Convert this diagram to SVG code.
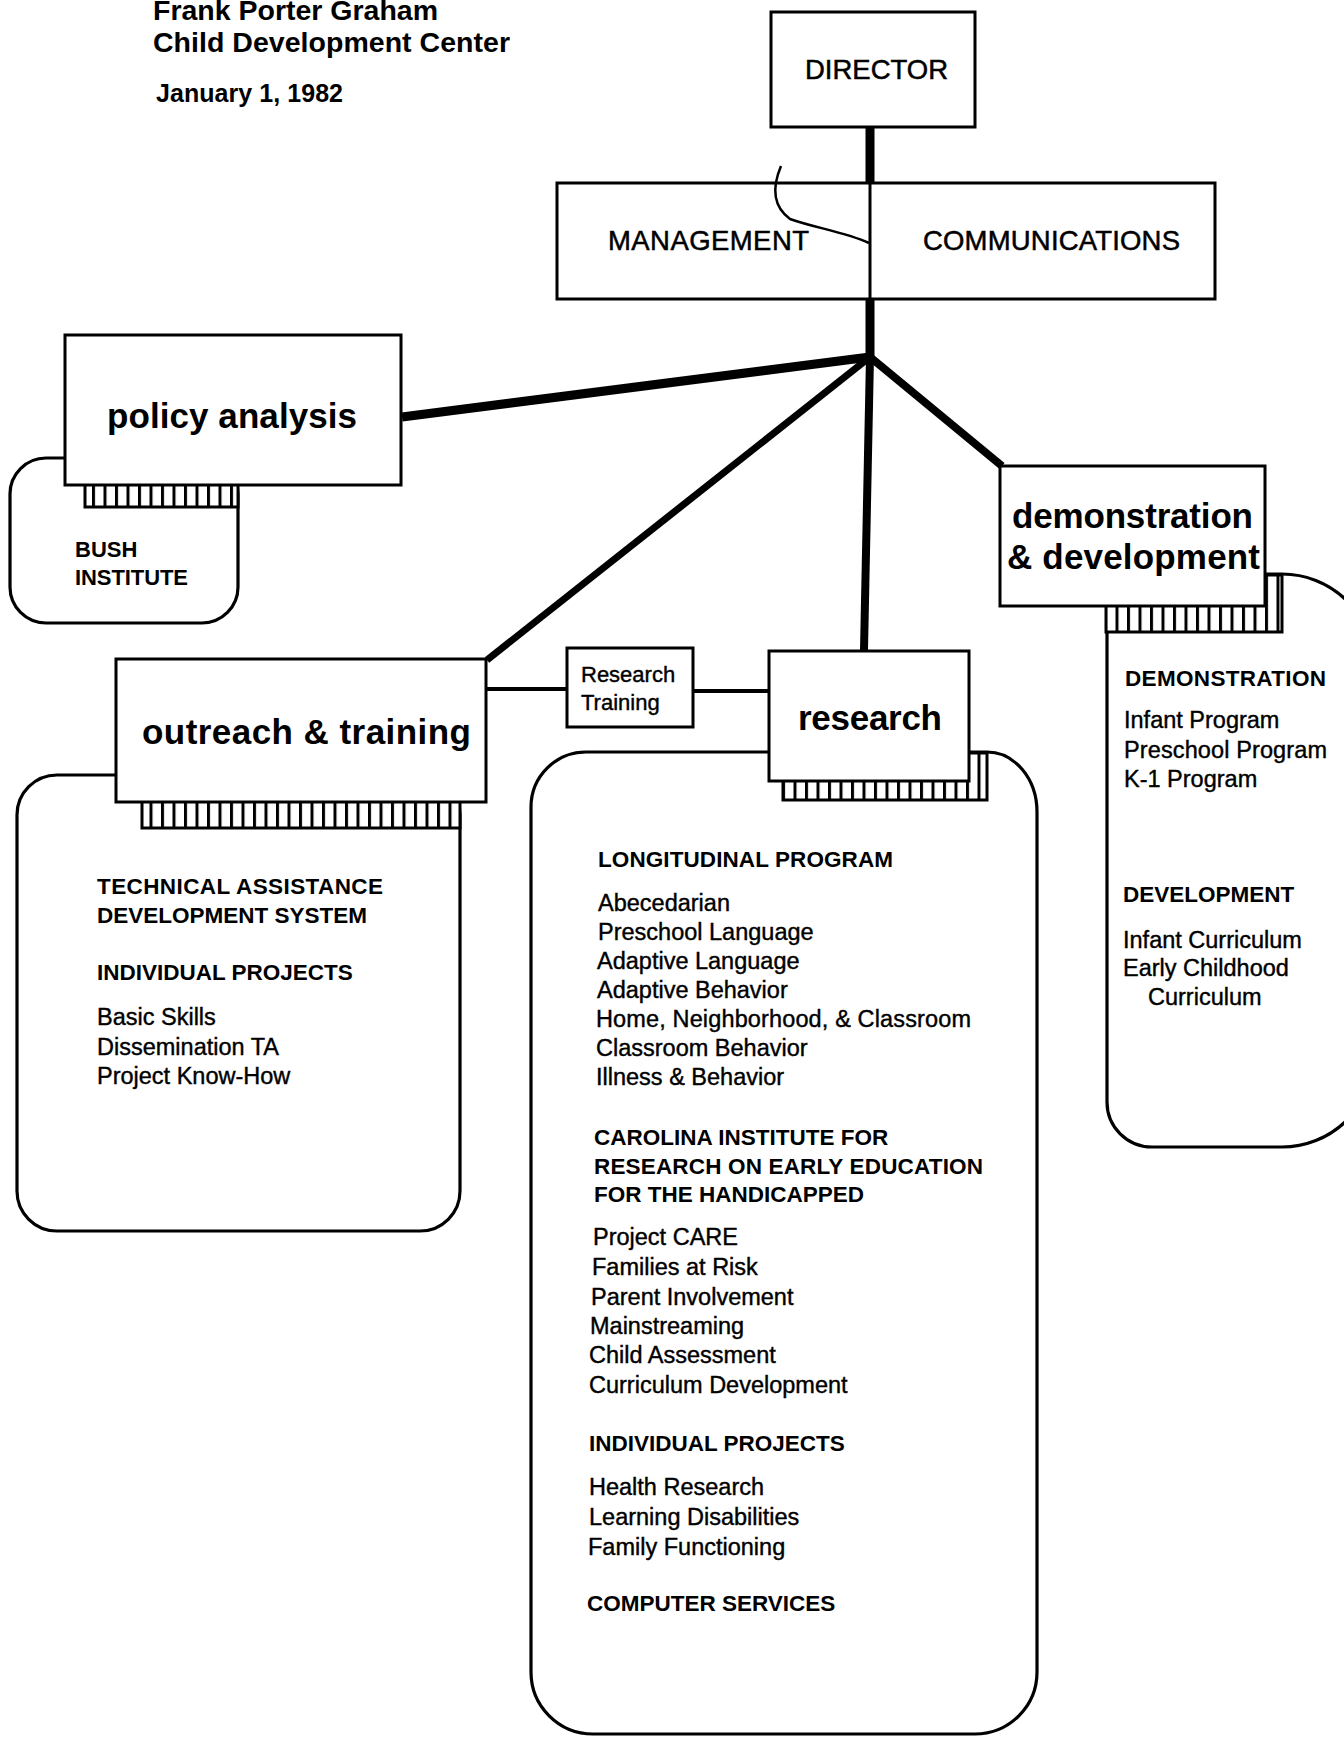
<svg xmlns="http://www.w3.org/2000/svg" width="1344" height="1737" viewBox="0 0 1344 1737">
<defs>
<pattern id="comb" patternUnits="userSpaceOnUse" width="11.5" height="10">
<rect width="11.5" height="10" fill="#fff"/>
<rect x="0" y="0" width="3" height="10" fill="#000"/>
</pattern>
<style>
.box{fill:#fff;stroke:#000;stroke-width:3}
.pane{fill:#fff;stroke:#000;stroke-width:3.2}
.strip{fill:url(#comb);stroke:#000;stroke-width:3}
.con{stroke:#000;fill:none;stroke-linecap:butt}
text{font-family:"Liberation Sans",Arial,Helvetica,sans-serif;fill:#000}
.title{font-weight:bold;font-size:28.5px}
.big{font-weight:bold;font-size:35px}
.cap{font-size:27.5px;stroke:#000;stroke-width:0.5}
.h{font-weight:bold;font-size:22.5px}
.i{font-size:23.5px;stroke:#000;stroke-width:0.4}
.rt{font-size:22px;stroke:#000;stroke-width:0.4}
</style>
</defs>
<rect width="1344" height="1737" fill="#fff"/>

<g id="title">
<text class="title" x="153" y="20" textLength="285">Frank Porter Graham</text>
<text class="title" x="153" y="52" textLength="357">Child Development Center</text>
<text class="title" x="156" y="102" style="font-size:25px" textLength="187">January 1, 1982</text>
</g>

<g id="director">
<rect class="box" x="771" y="12" width="204" height="115"/>
<text class="cap" x="805" y="79" textLength="143">DIRECTOR</text>
</g>

<g id="management-communications">
<rect class="box" x="557" y="183" width="658" height="116"/>
<line x1="870" y1="183" x2="870" y2="299" stroke="#000" stroke-width="3"/>
<text class="cap" x="608" y="250" textLength="201">MANAGEMENT</text>
<text class="cap" x="923" y="250" textLength="257">COMMUNICATIONS</text>
</g>

<g id="policy-analysis">
<rect class="pane" x="10" y="458" width="228" height="165" rx="36"/>
<rect class="strip" x="85" y="480" width="153" height="27"/>
<rect class="box" x="65" y="335" width="336" height="150"/>
<text class="big" x="107" y="428" textLength="250">policy analysis</text>
<text class="h" x="75" y="557" style="font-size:22px">BUSH</text>
<text class="h" x="75" y="585" style="font-size:22px" textLength="113">INSTITUTE</text>
</g>

<g id="demonstration-development">
<path class="pane" d="M1107,574 H1282 A92,92 0 0 1 1374,666 V1055 A92,92 0 0 1 1282,1147 H1152 A45,45 0 0 1 1107,1102 Z"/>
<rect class="strip" x="1106" y="575" width="176" height="57"/>
<rect class="box" x="1000" y="466" width="265" height="140"/>
<text class="big" x="1012" y="528" textLength="241">demonstration</text>
<text class="big" x="1007" y="569" textLength="253">&amp; development</text>
<text class="h" x="1125" y="686" textLength="201">DEMONSTRATION</text>
<text class="i" x="1124" y="728">Infant Program</text>
<text class="i" x="1124" y="758" textLength="203">Preschool Program</text>
<text class="i" x="1124" y="787">K-1 Program</text>
<text class="h" x="1123" y="902">DEVELOPMENT</text>
<text class="i" x="1123" y="948">Infant Curriculum</text>
<text class="i" x="1123" y="976">Early Childhood</text>
<text class="i" x="1148" y="1005">Curriculum</text>
</g>

<g id="outreach-training">
<rect class="pane" x="17" y="775" width="443" height="456" rx="40"/>
<rect class="strip" x="142" y="796" width="318" height="32"/>
<rect class="box" x="116" y="659" width="370" height="143"/>
<text class="big" x="142" y="744" textLength="329">outreach &amp; training</text>
<text class="h" x="97" y="894" textLength="286">TECHNICAL ASSISTANCE</text>
<text class="h" x="97" y="923">DEVELOPMENT SYSTEM</text>
<text class="h" x="97" y="980">INDIVIDUAL PROJECTS</text>
<text class="i" x="97" y="1025">Basic Skills</text>
<text class="i" x="97" y="1055">Dissemination TA</text>
<text class="i" x="97" y="1084">Project Know-How</text>
</g>

<g id="research-training">
<rect class="box" x="567" y="648" width="126" height="79"/>
<text class="rt" x="581" y="682">Research</text>
<text class="rt" x="581" y="710">Training</text>
</g>

<g id="research">
<path class="pane" d="M586,752 H987 A50,60 0 0 1 1037,812 V1672 A62,62 0 0 1 975,1734 H593 A62,62 0 0 1 531,1672 V807 A55,55 0 0 1 586,752 Z"/>
<rect class="strip" x="783" y="753" width="204" height="47"/>
<rect class="box" x="769" y="651" width="200" height="130"/>
<text class="big" x="798" y="730" textLength="144">research</text>
<text class="h" x="598" y="867" textLength="295">LONGITUDINAL PROGRAM</text>
<text class="i" x="598" y="911">Abecedarian</text>
<text class="i" x="598" y="940">Preschool Language</text>
<text class="i" x="597" y="969">Adaptive Language</text>
<text class="i" x="597" y="998">Adaptive Behavior</text>
<text class="i" x="596" y="1027" textLength="375">Home, Neighborhood, &amp; Classroom</text>
<text class="i" x="596" y="1056">Classroom Behavior</text>
<text class="i" x="596" y="1085">Illness &amp; Behavior</text>
<text class="h" x="594" y="1145">CAROLINA INSTITUTE FOR</text>
<text class="h" x="594" y="1174" textLength="389">RESEARCH ON EARLY EDUCATION</text>
<text class="h" x="594" y="1202">FOR THE HANDICAPPED</text>
<text class="i" x="593" y="1245">Project CARE</text>
<text class="i" x="592" y="1275">Families at Risk</text>
<text class="i" x="591" y="1305">Parent Involvement</text>
<text class="i" x="590" y="1334">Mainstreaming</text>
<text class="i" x="589" y="1363">Child Assessment</text>
<text class="i" x="589" y="1393">Curriculum Development</text>
<text class="h" x="589" y="1451">INDIVIDUAL PROJECTS</text>
<text class="i" x="589" y="1495">Health Research</text>
<text class="i" x="589" y="1525">Learning Disabilities</text>
<text class="i" x="588" y="1555">Family Functioning</text>
<text class="h" x="587" y="1611">COMPUTER SERVICES</text>
</g>

<g id="connectors">
<line class="con" x1="870" y1="127" x2="870" y2="183" stroke-width="9"/>
<line class="con" x1="870" y1="299" x2="870" y2="360" stroke-width="9"/>
<line class="con" x1="870" y1="357" x2="402" y2="417" stroke-width="9"/>
<line class="con" x1="870" y1="357" x2="487" y2="660" stroke-width="7"/>
<line class="con" x1="870" y1="357" x2="864" y2="650" stroke-width="8"/>
<line class="con" x1="870" y1="357" x2="1002" y2="466" stroke-width="8"/>
<line class="con" x1="487" y1="689" x2="566" y2="689" stroke-width="4"/>
<line class="con" x1="694" y1="691" x2="768" y2="691" stroke-width="4"/>
<path class="con" d="M781,166 C773,185 771,205 790,219 C815,228 845,232 869,243" stroke-width="2.5"/>
</g>
</svg>
